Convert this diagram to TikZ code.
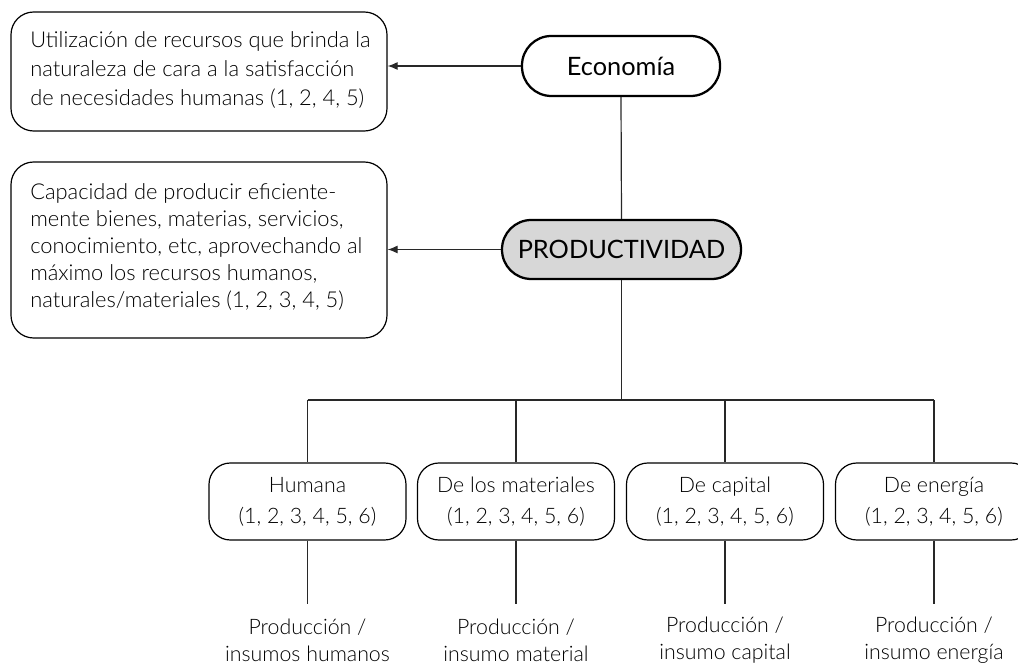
\documentclass[tikz,border=0pt]{standalone}
\usepackage{fontspec}
\setmainfont{Lato Light}
\newfontfamily\headfont{Lato}
\usetikzlibrary{arrows.meta}
\definecolor{prodgray}{RGB}{215,215,215}
\definecolor{wire}{RGB}{40,40,40}
\tikzset{
  headbox/.style={draw=black, line width=1.7pt, rounded corners=22pt,
    inner sep=0pt, font=\headfont\fontsize{19}{22}\selectfont},
  notebox/.style={draw=black, line width=0.9pt, rounded corners=17pt, inner sep=0pt},
  notetext/.style={anchor=west, align=left, inner sep=0pt,
    font=\fontsize{16.4}{21.6}\selectfont},
  kindbox/.style={draw=black, line width=0.9pt, rounded corners=16pt,
    minimum width=147.75pt, minimum height=57.75pt, inner sep=0pt, align=center,
    font=\fontsize{16}{23.2}\selectfont},
  ratiotext/.style={align=center, inner sep=0pt,
    font=\fontsize{16}{20.5}\selectfont},
  wireline/.style={draw=wire, line width=0.9pt},
  pointer/.style={wireline, -{Latex[length=7.5pt,width=6pt]}}
}
\begin{document}
\begin{tikzpicture}[x=0.75pt, y=-0.75pt]
\useasboundingbox (0,0) rectangle (1018,666);

% central concepts
\node[headbox, minimum width=148.5pt, minimum height=45pt] (eco) at (621,66) {Economía};
\node[headbox, fill=prodgray, minimum width=179.25pt, minimum height=44.25pt] (prod) at (621.5,249.5) {PRODUCTIVIDAD};

% definitions on the left
\node[notebox, minimum width=282pt, minimum height=89.25pt] (defeco) at (199,71.5) {};
\node[notetext] (defecotext) at (30,70) {Utilización de recursos que brinda la\\naturaleza de cara a la satisfacción\\de necesidades humanas (1, 2, 4, 5)};
\node[notebox, minimum width=282pt, minimum height=132pt] (defprod) at (199,250) {};
\node[notetext, font=\fontsize{16.4}{20.2}\selectfont] (defprodtext) at (30,247) {Capacidad de producir eficiente-\\mente bienes, materias, servicios,\\conocimiento, etc, aprovechando al\\máximo los recursos humanos,\\naturales/materiales (1, 2, 3, 4, 5)};

\draw[pointer] (eco.west) -- (eco.west -| defeco.east);
\draw[pointer] (prod.west) -- (prod.west -| defprod.east);
\draw[wireline] (eco.south) -- (prod.north);

% kinds of productivity
\node[kindbox] (hum) at (307.5,501.5) {Humana\\(1, 2, 3, 4, 5, 6)};
\node[kindbox] (mat) at (516,501.5) {De los materiales\\(1, 2, 3, 4, 5, 6)};
\node[kindbox] (cap) at (725,501.5) {De capital\\(1, 2, 3, 4, 5, 6)};
\node[kindbox] (ene) at (934,501.5) {De energía\\(1, 2, 3, 4, 5, 6)};

% branching from PRODUCTIVIDAD
\coordinate (fork) at (621.5,400);
\coordinate (forkL) at (307.5,400);
\coordinate (forkR) at (934,400);
\draw[wireline] (prod.south) -- (fork);
\draw[wireline] (forkL) -- (forkR);
\foreach \k in {hum,mat,cap,ene}
  \draw[wireline] (\k.north |- fork) -- (\k.north);

% ratios below each kind
\foreach \k/\t in {hum/{Producción /\\insumos humanos},
                   mat/{Producción /\\insumo material},
                   cap/{Producción /\\insumo capital},
                   ene/{Producción /\\insumo energía}}{
  \coordinate (\k end) at ([yshift=-47.25pt]\k.south);
  \draw[wireline] (\k.south) -- (\k end);
  \node[ratiotext] (\k ratio) at ([yshift=-27.5pt]\k end) {\t};
}
\end{tikzpicture}
\end{document}
